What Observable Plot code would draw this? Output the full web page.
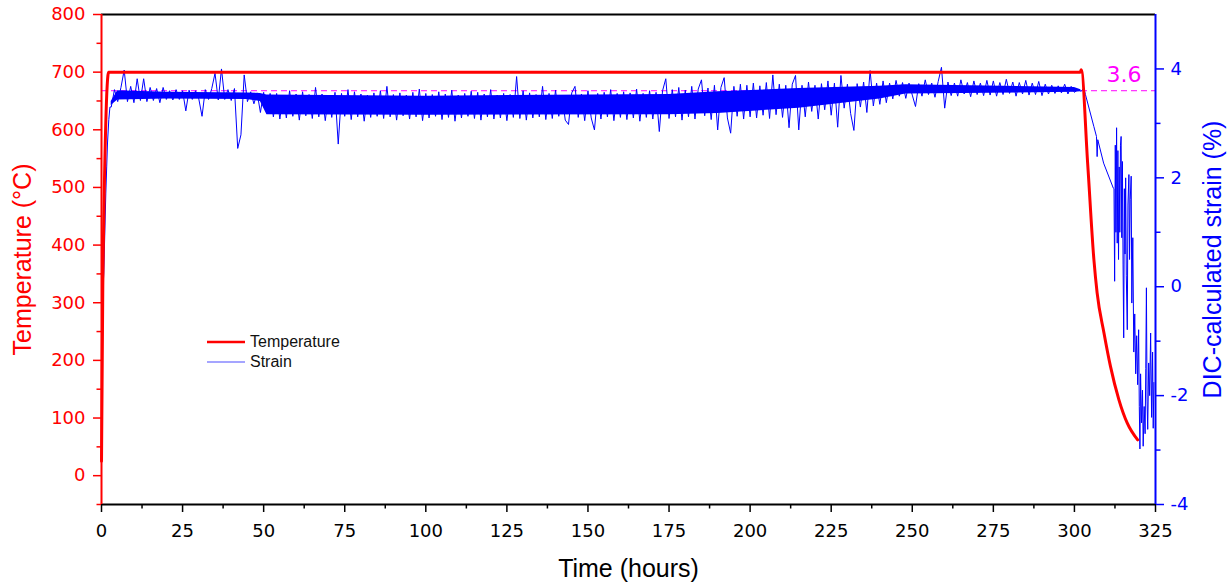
<!DOCTYPE html>
<html><head><meta charset="utf-8">
<script src="https://cdn.jsdelivr.net/npm/d3@7"></script>
<script src="https://cdn.jsdelivr.net/npm/@observablehq/plot@0.6"></script>
<style>
body{margin:0;background:#fff;}
#wrap{position:relative;width:1231px;height:583px;}
#legend{position:absolute;left:207px;top:332px;font-family:"Liberation Sans",Arial,sans-serif;font-size:16px;color:#111;}
.item{display:flex;align-items:center;height:20px;}
.item svg{margin-right:5px;}
</style></head><body><div id="wrap"><div id="legend"></div></div>
<script>
// ---- data ----
const xDomain = [0, 325];
const tempDomain = [-50, 800];
const strainDomain = [-4, 5];
const xTicks = [0, 25, 50, 75, 100, 125, 150, 175, 200, 225, 250, 275, 300, 325];
const xMinorTicks = [12.5, 37.5, 62.5, 87.5, 112.5, 137.5, 162.5, 187.5, 212.5, 237.5, 262.5, 287.5, 312.5];
const tempTicks = [0, 100, 200, 300, 400, 500, 600, 700, 800];
const tempMinorTicks = [-50, 50, 150, 250, 350, 450, 550, 650, 750];
const strainTicks = [-4, -2, 0, 2, 4];
const strainMinorTicks = [-3, -1, 1, 3];
const referenceStrain = [3.6];

// Temperature (°C) vs time (hours)
const tempTime  = [0, 0.4, 2.2, 301.8, 302.1, 304.1, 306.0, 307.0, 309.1, 311.1, 313.7, 316.3, 319.5];
const tempValue = [25, 330, 700, 700, 704, 540, 375, 317, 248, 190, 132, 91, 62];

// Strain (%) : initial rise
const riseTime   = [0.3, 0.45, 0.7, 1.0, 1.33, 1.6, 1.85, 2.25, 2.6];
const riseStrain = [0.0, -0.06, 0.25, 0.95, 1.72, 2.2, 2.64, 3.07, 3.3];

// Strain (%) : dense core of the noisy hold-period signal (lower / upper edge)
const bandTime = [3, 5, 20, 45, 49, 51, 100, 175, 190, 215, 240, 248, 300, 302];
const bandLow  = [3.33, 3.43, 3.45, 3.44, 3.40, 3.16, 3.15, 3.16, 3.18, 3.28, 3.45, 3.54, 3.57, 3.58];
const bandHigh = [3.40, 3.60, 3.57, 3.56, 3.55, 3.52, 3.50, 3.53, 3.58, 3.64, 3.68, 3.71, 3.66, 3.62];

// Strain (%) : hold period, one reading per hour from hour 3 to hour 301
const plateauStart = 3;
const plateauStrain = [
  3.30, 3.62, 3.40, 3.66, 3.98, 3.40, 3.68, 3.38, 3.82, 3.42,
  3.82, 3.40, 3.66, 3.42, 3.64, 3.38, 3.66, 3.44, 3.60, 3.43,
  3.62, 3.44, 3.60, 3.23, 3.61, 3.44, 3.60, 3.45, 3.13, 3.62,
  3.44, 3.64, 3.92, 3.43, 4.00, 3.44, 3.62, 3.42, 3.64, 2.54,
  2.79, 3.89, 3.40, 3.58, 3.36, 3.56, 3.20, 3.57, 3.22, 3.55,
  3.12, 3.55, 3.08, 3.52, 3.10, 3.60, 3.13, 3.54, 3.06, 3.58,
  3.14, 3.53, 3.09, 3.66, 3.12, 3.54, 3.05, 3.52, 3.11, 3.57,
  2.62, 3.55, 3.13, 3.62, 3.07, 3.58, 3.12, 3.54, 3.04, 3.52,
  3.11, 3.56, 3.13, 3.60, 3.09, 3.68, 3.12, 3.53, 3.06, 3.56,
  3.14, 3.52, 3.08, 3.57, 3.12, 3.63, 3.05, 3.55, 3.10, 3.53,
  3.13, 3.58, 3.07, 3.54, 3.11, 3.61, 3.04, 3.52, 3.10, 3.55,
  3.13, 3.59, 3.09, 3.57, 3.06, 3.54, 3.12, 3.62, 3.08, 3.52,
  3.10, 3.55, 3.05, 3.53, 3.11, 3.86, 3.09, 3.60, 3.06, 3.56,
  3.10, 3.53, 3.12, 3.68, 3.07, 3.55, 3.09, 3.61, 3.13, 3.52,
  3.06, 2.98, 3.56, 3.68, 3.11, 3.54, 3.05, 3.60, 3.10, 2.88,
  3.55, 3.08, 3.57, 3.12, 3.62, 3.05, 3.55, 3.11, 3.58, 3.07,
  3.56, 3.10, 3.63, 3.04, 3.55, 3.11, 3.60, 3.08, 3.57, 2.85,
  3.60, 3.82, 3.09, 3.62, 3.12, 3.66, 3.06, 3.61, 3.12, 3.68,
  3.08, 3.63, 3.80, 3.14, 3.65, 3.07, 3.70, 2.88, 3.66, 3.84,
  3.10, 2.82, 3.68, 3.13, 3.72, 3.08, 3.70, 3.12, 3.74, 3.10,
  3.69, 3.15, 3.75, 3.09, 3.89, 3.16, 3.72, 3.11, 3.70, 2.92,
  3.72, 3.88, 2.88, 3.70, 3.12, 3.76, 3.22, 3.70, 3.08, 3.73,
  3.25, 3.78, 3.15, 3.74, 2.93, 3.88, 3.28, 3.72, 3.18, 2.87,
  3.73, 3.30, 3.76, 3.20, 3.97, 3.32, 3.74, 3.35, 3.78, 3.38,
  3.74, 3.45, 3.79, 3.50, 3.75, 3.46, 3.74, 3.52, 3.31, 3.73,
  3.50, 3.80, 3.53, 3.74, 3.48, 3.77, 4.03, 3.28, 3.76, 3.51,
  3.74, 3.50, 3.80, 3.54, 3.75, 3.49, 3.78, 3.53, 3.74, 3.51,
  3.79, 3.52, 3.78, 3.50, 3.75, 3.53, 3.81, 3.55, 3.76, 3.50,
  3.75, 3.54, 3.79, 3.52, 3.74, 3.53, 3.77, 3.51, 3.72, 3.54,
  3.70, 3.55, 3.69, 3.56, 3.72, 3.54, 3.68, 3.57, 3.62
];

// Strain (%) : cooling period
const tailTime = [302.1, 302.9, 303.4, 306.0, 306.8, 307.0, 307.2, 309.0, 312.0,
  312.2, 312.4, 312.6, 312.8, 313.0, 313.2, 313.4, 313.6, 313.8, 314.0, 314.2, 314.4, 314.6, 314.8,
  315.0, 315.2, 315.4, 315.6, 315.8, 316.0, 316.3, 316.5, 316.8, 317.0, 317.2, 317.5, 317.7,
  318.0, 318.3, 318.6, 318.9, 319.2, 319.5, 319.8, 320.0, 320.2, 320.4, 320.7, 321.0, 321.2,
  321.5, 321.8, 322.0, 322.2, 322.4, 322.6, 322.9, 323.2, 323.5, 323.8, 324.1, 324.3, 324.5];
const tailStrain = [3.59, 3.65, 3.53, 2.94, 2.76, 2.39, 2.70, 2.27, 1.81,
  1.80, 0.10, 2.60, 1.00, 2.92, 0.80, 2.50, 0.50, 2.20, 1.00, 2.60, 2.76, 0.90, 2.30,
  0.40, -0.94, 1.80, 0.60, 2.00, 0.20, -0.79, 1.50, 2.06, 0.50, 1.60, 2.03, -0.30,
  0.90, -1.20, -0.50, -1.60, -0.90, -1.80, -0.79, -2.20, -2.98, -1.60, -2.50, -1.90, -2.93,
  -2.20, -2.70, -1.50, -0.02, -2.10, -2.62, -1.40, -2.00, -0.85, -2.40, -1.20, -2.60, -1.76];

// ---- build rows ----
const plateauTime = plateauStrain.map((_, i) => plateauStart + i);
const strainRows = [
  ...riseTime.map((t, i) => ({t, s: riseStrain[i]})),
  ...plateauTime.map((t, i) => ({t, s: plateauStrain[i]})),
  ...tailTime.map((t, i) => ({t, s: tailStrain[i]}))
];
const bandRows = bandTime.map((t, i) => ({t, lo: bandLow[i], hi: bandHigh[i]}));
const tempRows = tempTime.map((t, i) => ({t, v: tempValue[i]}));

// strain axis mapped onto the temperature axis (secondary axis)
const toT = d3.scaleLinear().domain(strainDomain).range(tempDomain);
const fmtStrain = v => { const s = Math.round(toT.invert(v)); return s < 0 ? "-" + Math.abs(s) : String(s); };

const titleFont = "'Liberation Sans', Arial, sans-serif";
const red = "#ff0000", blue = "#0000ff", magenta = "#ff00ff";

const chart = Plot.plot({
  width: 1231, height: 583,
  marginLeft: 101, marginRight: 76, marginTop: 14, marginBottom: 79,
  style: {background: "white", fontFamily: "'DejaVu Sans', sans-serif", fontSize: "18px", overflow: "visible"},
  x: {domain: xDomain},
  y: {domain: tempDomain},
  marks: [
    Plot.ruleY(referenceStrain, {y: d => toT(d), stroke: magenta, strokeWidth: 1, strokeDasharray: "6,4"}),
    Plot.areaY(bandRows, {x: "t", y1: d => toT(d.lo), y2: d => toT(d.hi), fill: blue}),
    Plot.line(strainRows, {x: "t", y: d => toT(d.s), stroke: blue, strokeWidth: 1}),
    Plot.line(tempRows, {x: "t", y: "v", stroke: red, strokeWidth: 3, strokeLinejoin: "round", curve: "monotone-x"}),
    Plot.text(referenceStrain, {x: () => xDomain[1], y: d => toT(d), text: d => String(d), fill: magenta,
      fontSize: 22, textAnchor: "end", dx: -14, dy: -16}),
    // frame lines
    Plot.ruleY([tempDomain[1]], {stroke: "black", strokeWidth: 2}),
    Plot.ruleY([tempDomain[0]], {stroke: "black", strokeWidth: 2}),
    Plot.ruleX([xDomain[0]], {stroke: red, strokeWidth: 2}),
    Plot.ruleX([xDomain[1]], {stroke: blue, strokeWidth: 2}),
    // x axis
    Plot.axisX({ticks: xTicks, tickSize: 8, tickPadding: 12, strokeWidth: 1.5, color: "black", label: null}),
    Plot.axisX({ticks: xMinorTicks, tickSize: 4.5, strokeWidth: 1.5, color: "black", tickFormat: () => "", label: null}),
    // left axis (temperature)
    Plot.axisY({ticks: tempTicks, tickSize: 8, tickPadding: 8, strokeWidth: 1.5, color: red, label: null}),
    Plot.axisY({ticks: tempMinorTicks, tickSize: 4.5, strokeWidth: 1.5, color: red, tickFormat: () => "", label: null}),
    // right axis (strain)
    Plot.axisY({anchor: "right", ticks: strainTicks.map(toT), tickFormat: fmtStrain, tickSize: 8, tickPadding: 7,
      strokeWidth: 1.5, color: blue, label: null}),
    Plot.axisY({anchor: "right", ticks: strainMinorTicks.map(toT), tickFormat: () => "", tickSize: 4.5,
      strokeWidth: 1.5, color: blue, label: null}),
    // axis titles
    Plot.text(["Temperature (°C)"], {frameAnchor: "left", dx: -79, rotate: -90, textAnchor: "middle", lineAnchor: "middle",
      fill: red, fontSize: 25, fontFamily: titleFont}),
    Plot.text(["DIC-calculated strain (%)"], {frameAnchor: "right", dx: 57, rotate: -90, textAnchor: "middle", lineAnchor: "middle",
      fill: blue, fontSize: 25, fontFamily: titleFont}),
    Plot.text(["Time (hours)"], {frameAnchor: "bottom", dy: 64, textAnchor: "middle", lineAnchor: "middle",
      fill: "black", fontSize: 25, fontFamily: titleFont})
  ]
});
const wrap = document.getElementById("wrap");
wrap.insertBefore(chart, wrap.firstChild);

// legend
const legendItems = [
  {label: "Temperature", color: red, width: 2.5},
  {label: "Strain", color: blue, width: 1.2}
];
const legend = d3.select("#legend");
for (const it of legendItems) {
  const row = legend.append("div").attr("class", "item");
  const sv = row.append("svg").attr("width", 38).attr("height", 20);
  sv.append("line").attr("x1", 0).attr("x2", 38).attr("y1", 10).attr("y2", 10)
    .attr("stroke", it.color).attr("stroke-width", it.width).attr("stroke-opacity", it.color === blue ? 0.7 : 1);
  row.append("span").text(it.label);
}
</script>
</body></html>
